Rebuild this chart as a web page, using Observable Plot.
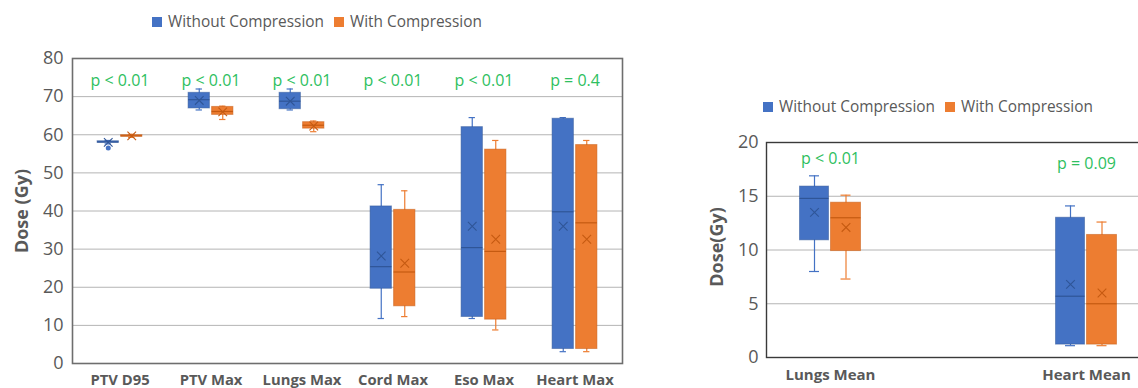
<!DOCTYPE html>
<html><head><meta charset="utf-8">
<script src="https://cdn.jsdelivr.net/npm/d3@7"></script>
<script src="https://cdn.jsdelivr.net/npm/@observablehq/plot@0.6"></script>
<style>
html,body{margin:0;padding:0;background:#fff;overflow:hidden;width:1138px;height:388px;}
#wrap{position:relative;width:1138px;height:388px;overflow:hidden;font-family:"Open Sans",sans-serif;}
.legend{position:absolute;display:flex;align-items:center;font-size:15.4px;color:#595959;white-space:nowrap;line-height:1;}
.sw{display:inline-block;width:10px;height:10px;margin-right:6px;}
.item{display:flex;align-items:center;margin-right:10px;}
.ylab{position:absolute;font-weight:bold;font-size:18px;color:#595959;transform:translate(-50%,-50%) rotate(-90deg);white-space:nowrap;}
.chart{position:absolute;top:0;}
.chart svg{max-width:none !important;}
.chart svg g[aria-label="x-axis tick label"] text{font-weight:bold;}
</style></head>
<body><div id="wrap"></div>
<script>
// ---------- data ----------
const seriesNames = ["Without Compression", "With Compression"];

const leftCategories = ["PTV D95", "PTV Max", "Lungs Max", "Cord Max", "Eso Max", "Heart Max"];
const leftPValues = ["p < 0.01", "p < 0.01", "p < 0.01", "p < 0.01", "p < 0.01", "p = 0.4"];
const leftTicks = [0, 10, 20, 30, 40, 50, 60, 70, 80];
// Without Compression
const leftMinWithout  = [57.6, 66.5, 66.5, 11.8, 11.8, 3.1];
const leftQ1Without   = [57.9, 66.9, 66.7, 19.6, 12.2, 3.8];
const leftMedWithout  = [58.1, 69.2, 68.8, 25.4, 30.4, 39.8];
const leftQ3Without   = [58.3, 71.0, 71.0, 41.2, 62.0, 64.2];
const leftMaxWithout  = [58.5, 72.0, 72.0, 46.9, 64.5, 64.5];
const leftMeanWithout = [58.0, 69.0, 68.8, 28.2, 36.0, 36.0];
// With Compression
const leftMinWith  = [59.3, 64.0, 60.8, 12.3, 8.8, 3.1];
const leftQ1With   = [59.5, 65.2, 61.6, 15.0, 11.5, 3.8];
const leftMedWith  = [59.7, 66.1, 62.5, 24.0, 29.4, 36.9];
const leftQ3With   = [59.9, 67.3, 63.3, 40.3, 56.1, 57.3];
const leftMaxWith  = [60.1, 67.5, 63.6, 45.3, 58.5, 58.5];
const leftMeanWith = [59.7, 66.0, 62.3, 26.3, 32.6, 32.6];
// outliers
const leftOutlierCategory = ["PTV D95"];
const leftOutlierValue = [56.5];

const rightCategories = ["Lungs Mean", "Heart Mean"];
const rightPValues = ["p < 0.01", "p = 0.09"];
const rightTicks = [0, 5, 10, 15, 20];
const rightMinWithout  = [8.0, 1.1];
const rightQ1Without   = [10.9, 1.2];
const rightMedWithout  = [14.8, 5.7];
const rightQ3Without   = [15.9, 13.0];
const rightMaxWithout  = [16.9, 14.1];
const rightMeanWithout = [13.5, 6.8];
const rightMinWith  = [7.3, 1.1];
const rightQ1With   = [9.9, 1.2];
const rightMedWith  = [13.0, 5.0];
const rightQ3With   = [14.4, 11.4];
const rightMaxWith  = [15.1, 12.6];
const rightMeanWith = [12.1, 6.0];

// ---------- styling ----------
const BLUE = "#4472C4", ORANGE = "#ED7D31", BLUE_D = "#2F5597", ORANGE_D = "#C55A11";
const GREEN = "#2EC060", GRID = "#b4b4b4", TEXT = "#595959";

function rowsFrom(cats, s, mn, q1, md, q3, mx, mean) {
  return cats.map((c, i) => ({cat: c, series: s, min: mn[i], q1: q1[i], med: md[i], q3: q3[i], max: mx[i], mean: mean[i]}));
}

function seriesMarks(rows, bw, offset, boxW, capW, fill, dark) {
  const half = bw / 2;
  const bl = half + offset - boxW / 2, br = half - offset - boxW / 2;
  const cl = half + offset - capW / 2, cr = half - offset - capW / 2;
  return [
    Plot.ruleX(rows, {x: "cat", y1: "min", y2: "max", dx: offset, stroke: fill, strokeWidth: 1.2}),
    Plot.tickY(rows, {x: "cat", y: "min", insetLeft: cl, insetRight: cr, stroke: fill, strokeWidth: 1.2}),
    Plot.tickY(rows, {x: "cat", y: "max", insetLeft: cl, insetRight: cr, stroke: fill, strokeWidth: 1.2}),
    Plot.barY(rows, {x: "cat", y1: "q1", y2: "q3", insetLeft: bl, insetRight: br, fill: fill, stroke: dark, strokeOpacity: 0.5, strokeWidth: 1}),
    Plot.tickY(rows, {x: "cat", y: "med", insetLeft: bl, insetRight: br, stroke: dark, strokeWidth: 1.2}),
    Plot.dot(rows, {x: "cat", y: "mean", dx: offset, symbol: "times", r: 4, stroke: dark, strokeWidth: 1.1})
  ];
}

const wrap = document.getElementById("wrap");
function place(chart, left, W, H) {
  const d = document.createElement("div");
  d.className = "chart"; d.style.left = left + "px"; d.style.width = W + "px"; d.style.height = H + "px";
  chart.style.maxWidth = "none"; chart.style.width = W + "px"; chart.style.height = H + "px";
  d.appendChild(chart); wrap.appendChild(d);
}

// ---------- left chart ----------
{
  const W = 640, H = 388, mL = 72, mR = 18, mT = 58, mB = 25;
  const bw = (W - mL - mR) / leftCategories.length;
  const rowsA = rowsFrom(leftCategories, seriesNames[0], leftMinWithout, leftQ1Without, leftMedWithout, leftQ3Without, leftMaxWithout, leftMeanWithout);
  const rowsB = rowsFrom(leftCategories, seriesNames[1], leftMinWith, leftQ1With, leftMedWith, leftQ3With, leftMaxWith, leftMeanWith);
  const outliers = leftOutlierCategory.map((c, i) => ({cat: c, value: leftOutlierValue[i]}));
  const pRows = leftCategories.map((c, i) => ({cat: c, p: leftPValues[i]}));
  const chart = Plot.plot({
    width: W, height: H, marginLeft: mL, marginRight: mR, marginTop: mT, marginBottom: mB,
    style: {fontFamily: "Open Sans", color: TEXT, background: "transparent", overflow: "visible"},
    x: {domain: leftCategories, padding: 0},
    y: {domain: [0, 80]},
    marks: [
      Plot.ruleY(leftTicks.slice(1, -1), {stroke: GRID, strokeWidth: 1}),
      ...seriesMarks(rowsA, bw, -11.75, 22, 7, BLUE, BLUE_D),
      ...seriesMarks(rowsB, bw, 11.75, 22, 7, ORANGE, ORANGE_D),
      Plot.dot(outliers, {x: "cat", y: "value", dx: -11.75, r: 2.5, fill: BLUE}),
      Plot.text(pRows, {x: "cat", text: "p", frameAnchor: "top", lineAnchor: "middle", dy: 22, fill: GREEN, fontSize: 16}),
      Plot.frame({stroke: "#6e6e6e", strokeWidth: 1.6}),
      Plot.axisY({ticks: leftTicks, tickSize: 0, tickPadding: 9, fontSize: 18, label: null}),
      Plot.axisX({tickSize: 0, tickPadding: 11, fontSize: 14.8, label: null})
    ]
  });
  place(chart, 0, W, H);
}

// ---------- right chart ----------
{
  const domain = [rightCategories[0], "\u00a0", rightCategories[1], "\u00a0\u00a0"];
  const W = 598, H = 388, mL = 76, mR = 10, mT = 142, mB = 31;
  const bw = (W - mL - mR) / domain.length;
  const rowsA = rowsFrom(rightCategories, seriesNames[0], rightMinWithout, rightQ1Without, rightMedWithout, rightQ3Without, rightMaxWithout, rightMeanWithout);
  const rowsB = rowsFrom(rightCategories, seriesNames[1], rightMinWith, rightQ1With, rightMedWith, rightQ3With, rightMaxWith, rightMeanWith);
  const pRows = rightCategories.map((c, i) => ({cat: c, p: rightPValues[i]}));
  const chart = Plot.plot({
    width: W, height: H, marginLeft: mL, marginRight: mR, marginTop: mT, marginBottom: mB,
    style: {fontFamily: "Open Sans", color: TEXT, background: "transparent", overflow: "visible"},
    x: {domain, padding: 0},
    y: {domain: [0, 20]},
    marks: [
      Plot.ruleY(rightTicks.slice(1, -1), {stroke: GRID, strokeWidth: 1}),
      ...seriesMarks(rowsA, bw, -16, 29, 10, BLUE, BLUE_D),
      ...seriesMarks(rowsB, bw, 15.5, 30, 10, ORANGE, ORANGE_D),
      Plot.text(pRows.slice(0, 1), {x: "cat", text: "p", frameAnchor: "top", lineAnchor: "middle", dy: 16, fill: GREEN, fontSize: 16}),
      Plot.text(pRows.slice(1), {x: "cat", text: "p", frameAnchor: "top", lineAnchor: "middle", dy: 21, fill: GREEN, fontSize: 16}),
      Plot.frame({stroke: "#3a3a3a", strokeWidth: 1.4}),
      Plot.axisY({ticks: rightTicks, tickSize: 0, tickPadding: 8, fontSize: 18, label: null}),
      Plot.axisX({tickSize: 0, tickPadding: 12, fontSize: 15, label: null})
    ]
  });
  place(chart, 690, W, H);
}

// ---------- legends and axis titles ----------
function legend(left, top) {
  const L = document.createElement("div");
  L.className = "legend"; L.style.left = left + "px"; L.style.top = top + "px";
  [[seriesNames[0], BLUE], [seriesNames[1], ORANGE]].forEach(([n, c]) => {
    const it = document.createElement("span"); it.className = "item";
    const sw = document.createElement("span"); sw.className = "sw"; sw.style.background = c;
    it.appendChild(sw); it.appendChild(document.createTextNode(n)); L.appendChild(it);
  });
  wrap.appendChild(L);
}
legend(152, 14);
legend(763, 99);

function ylab(text, x, y) {
  const t = document.createElement("div"); t.className = "ylab";
  t.style.left = x + "px"; t.style.top = y + "px"; t.textContent = text; wrap.appendChild(t);
}
ylab("Dose (Gy)", 21, 211);
ylab("Dose(Gy)", 716, 247);
</script></body></html>
